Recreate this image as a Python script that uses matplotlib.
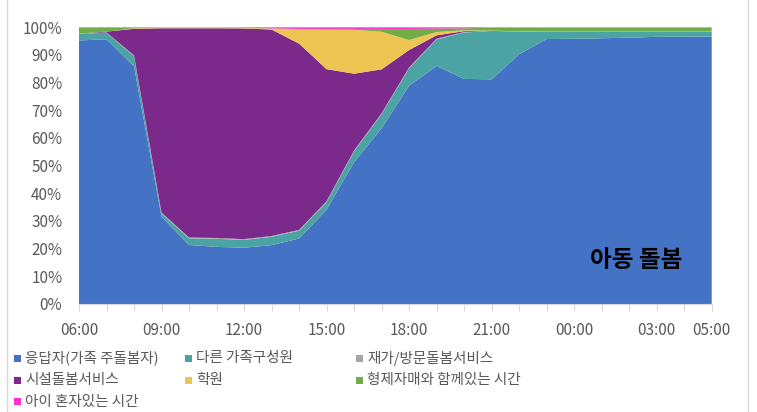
import matplotlib
matplotlib.use("Agg")
import matplotlib.pyplot as plt
from matplotlib.patches import Rectangle
from matplotlib.lines import Line2D
import numpy as np

plt.rcParams['font.family'] = ['Noto Sans CJK KR', 'DejaVu Sans']

hours = ['06:00', '07:00', '08:00', '09:00', '10:00', '11:00', '12:00', '13:00',
         '14:00', '15:00', '16:00', '17:00', '18:00', '19:00', '20:00', '21:00',
         '22:00', '23:00', '00:00', '01:00', '02:00', '03:00', '04:00', '05:00']
shown_labels = ['06:00', '09:00', '12:00', '15:00', '18:00', '21:00', '00:00', '03:00', '05:00']

series_names = ['응답자(가족 주돌봄자)', '다른 가족구성원', '재가/방문돌봄서비스',
                '시설돌봄서비스', '학원', '형제자매와 함께있는 시간', '아이 혼자있는 시간']

respondent = [95.4, 95.8, 85.8, 31.6, 21.3, 20.6, 20.3, 21.3, 23.7, 34.2, 51.4, 63.5,
              78.9, 86.1, 81.6, 81.2, 90.3, 95.7, 95.8, 96.0, 96.3, 96.6, 96.7, 96.7]
family = [2.4, 2.4, 3.6, 1.2, 2.4, 2.9, 2.8, 3.0, 2.8, 2.8, 3.9, 5.1,
          6.3, 9.6, 16.8, 17.5, 8.2, 2.6, 2.5, 2.3, 2.1, 1.8, 1.7, 1.7]
homecare = [0.1, 0.1, 0.3, 0.3, 0.3, 0.3, 0.3, 0.3, 0.3, 0.3, 0.3, 0.3,
            0.3, 0.3, 0.2, 0.1, 0.1, 0.1, 0.1, 0.1, 0.1, 0.1, 0.1, 0.1]
facility = [0.0, 0.3, 9.6, 66.8, 75.5, 75.6, 76.0, 74.7, 67.4, 47.9, 27.8, 15.9,
            6.3, 1.2, 0.3, 0.0, 0.0, 0.0, 0.0, 0.0, 0.0, 0.0, 0.0, 0.0]
academy = [0.0, 0.0, 0.2, 0.2, 0.2, 0.2, 0.2, 0.3, 5.2, 14.4, 15.9, 13.6,
           3.6, 1.2, 0.3, 0.0, 0.0, 0.0, 0.0, 0.0, 0.0, 0.0, 0.0, 0.0]
siblings = [2.2, 1.5, 0.3, 0.1, 0.1, 0.1, 0.1, 0.1, 0.1, 0.2, 0.3, 1.0,
            4.0, 1.2, 0.7, 1.1, 1.4, 1.5, 1.5, 1.5, 1.5, 1.5, 1.5, 1.5]
alone = [0.05, 0.05, 0.05, 0.05, 0.05, 0.05, 0.1, 0.4, 0.6, 0.6, 0.6, 0.6,
         0.6, 0.5, 0.4, 0.1, 0.05, 0.05, 0.05, 0.05, 0.05, 0.05, 0.05, 0.05]

colors = ['#4472C4', '#4BA3A3', '#A5A5A5', '#7B2A8C', '#EEC452', '#70AD47', '#FF33CC']

data = np.array([respondent, family, homecare, facility, academy, siblings, alone], dtype=float)
share = data / data.sum(axis=0)
x = np.arange(len(hours))

fig = plt.figure(figsize=(7.57, 4.12), dpi=100)
ax = fig.add_axes([79/757, 1 - 304/412, (711.7 - 79)/757, (304 - 27.3)/412])

ax.stackplot(x, share, colors=colors, linewidth=0)

ax.set_xlim(0, len(hours) - 1)
ax.set_ylim(0, 1)
ax.set_yticks(np.linspace(0, 1, 11))
ax.set_yticklabels([f'{int(round(v*100))}%' for v in np.linspace(0, 1, 11)])
ax.set_xticks(x)
ax.set_xticklabels([h if h in shown_labels else '' for h in hours])

for s in ['top', 'right', 'left']:
    ax.spines[s].set_visible(False)
ax.spines['bottom'].set_color('#D9D9D9')
ax.tick_params(axis='y', length=0, pad=12, labelsize=11, labelcolor='#595959')
ax.tick_params(axis='x', length=5, width=0.8, color='#D9D9D9', direction='out',
               pad=8, labelsize=11, labelcolor='#595959')

ax.text(0.88, 0.159, '아동 돌봄', transform=ax.transAxes, ha='center', va='center',
        fontsize=17, fontweight='bold', color='black')

# legend (manual, 3 columns)
col_x = [14, 185, 356]
row_y = [358, 380, 401.5]
W, H = 757, 412
for i, (name, c) in enumerate(zip(series_names, colors)):
    r, cidx = divmod(i, 3)
    px, py = col_x[cidx], row_y[r]
    fig.add_artist(Rectangle((px / W, 1 - (py + 3.5) / H), 7 / W, 7 / H,
                             transform=fig.transFigure, facecolor=c, edgecolor='none'))
    fig.text((px + 11) / W, 1 - py / H, name, ha='left', va='center',
             fontsize=10.5, color='#595959')

# chart border (left / right edges)
fig.add_artist(Line2D([7 / W, 7 / W], [0, 1], transform=fig.transFigure, color='#D9D9D9', lw=1))
fig.add_artist(Line2D([748 / W, 748 / W], [0, 1], transform=fig.transFigure, color='#D9D9D9', lw=1))

fig.savefig('out.png', dpi=100)
